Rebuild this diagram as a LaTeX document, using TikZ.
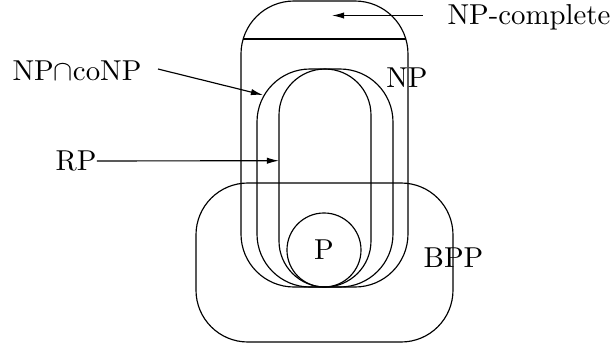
\documentclass[tikz,border=0pt]{standalone}
\usetikzlibrary{arrows.meta}
\begin{document}
\begin{tikzpicture}[x=0.3472pt,y=-0.3472pt,
  region/.style={draw, line width=0.4pt},
  pointer/.style={-{Latex[length=4.2pt,width=2.2pt]}, line width=0.4pt},
  lbl/.style={inner sep=0pt}]
\useasboundingbox (0,0) rectangle (611,347);

% complexity classes
\draw[region, rounded corners=18.4pt] (241,1) rectangle (408,287);    % NP
\draw[region] (243.2,39) -- (405.8,39);                              % NP-complete cap
\draw[region, rounded corners=18.4pt] (257,69) rectangle (393,287);   % NP cap coNP
\draw[region, rounded corners=16pt] (279,69) rectangle (371,287);     % RP
\draw[region, rounded corners=18pt] (196,183) rectangle (453,342);    % BPP
\node[region, circle, inner sep=0pt, minimum size=25.7pt] (p) at (324,250) {P};

% labels
\node[lbl, anchor=base west] (npc) at (447,24) {NP-complete};
\node[lbl, anchor=base] (np) at (407,87) {NP};
\node[lbl, anchor=base west] (nc) at (12,80) {NP$\cap$coNP};
\node[lbl, anchor=base west] (rp) at (55,170.5) {RP};
\node[lbl, anchor=base] (bpp) at (453.5,267) {BPP};

% pointers
\coordinate (npcTail) at (423,15.5);
\coordinate (npcTip) at (332,15.5);
\coordinate (ncTail) at (158,69);
\coordinate (ncTip) at (263,95);
\coordinate (rpTip) at (279,160.7);
\draw[pointer] (npcTail) -- (npcTip);
\draw[pointer] (ncTail) -- (ncTip);
\draw[pointer] (rp.east) -- (rpTip);
\end{tikzpicture}
\end{document}
